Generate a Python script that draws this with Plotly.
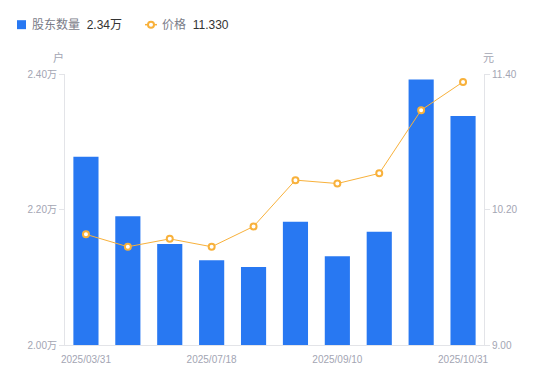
import plotly.graph_objects as go

# ---- data ----
dates = ["2025/03/31", "2025/06/20", "2025/06/30", "2025/07/18", "2025/07/31",
         "2025/08/20", "2025/09/10", "2025/09/30", "2025/10/20", "2025/10/31"]
holders_wan = [2.278, 2.190, 2.149, 2.125, 2.115, 2.182, 2.131, 2.167, 2.392, 2.338]
price = [9.98, 9.87, 9.94, 9.87, 10.05, 10.46, 10.43, 10.52, 11.08, 11.33]
shown_ticks = [dates[0], dates[3], dates[6], dates[9]]
left_ticks = [2.00, 2.20, 2.40]
right_ticks = [9.00, 10.20, 11.40]

OFF = 8  # page body margin
W, H = 550 - 2 * OFF, 381 - 2 * OFF
# plot area in window pixels: x 65..484, y 73.5..345.5
L = 65 - OFF
T = 73.5 - OFF
PW, PH = 419, 272
R = W - L - PW
B = H - T - PH

def px(x):
    return (x - OFF - L) / PW

def py(y):
    return (T + PH - (y - OFF)) / PH

FONT = "Liberation Sans, Arial, Noto Sans CJK SC, sans-serif"
BLUE = "#2878f2"
ORANGE = "#f8b13b"
TICK = "#a3a5b3"
AXIS = "#e3e4e8"

fig = go.Figure()
fig.add_bar(x=dates, y=holders_wan, marker=dict(color=BLUE, line=dict(width=0)),
            yaxis="y", name="股东数量", hoverinfo="skip")
fig.add_scatter(x=dates, y=price, yaxis="y2", mode="lines+markers", name="价格",
                line=dict(color=ORANGE, width=1),
                marker=dict(size=6, color="white", line=dict(color=ORANGE, width=2)),
                hoverinfo="skip")

fig.update_layout(
    width=W, height=H,
    margin=dict(l=L, r=R, t=T, b=B, pad=0, autoexpand=False),
    paper_bgcolor="white", plot_bgcolor="white",
    showlegend=False, bargap=0.4,
    font=dict(family=FONT, size=10, color=TICK),
    xaxis=dict(type="category", range=[-0.5, 9.5], tickmode="array", tickvals=shown_ticks,
               ticktext=shown_ticks, showline=True, linecolor=AXIS, linewidth=1,
               ticks="outside", ticklen=5, tickcolor="rgba(0,0,0,0)",
               showgrid=False, zeroline=False, automargin=False,
               tickfont=dict(size=10, color=TICK)),
    yaxis=dict(range=[2.0, 2.4], tickmode="array", tickvals=left_ticks,
               ticktext=[f"{v:.2f}万" for v in left_ticks],
               showline=True, linecolor=AXIS, linewidth=1, ticks="outside", ticklen=5,
               tickcolor=AXIS, showgrid=False, zeroline=False, automargin=False,
               tickfont=dict(size=10, color=TICK)),
    yaxis2=dict(range=[9.0, 11.4], overlaying="y", side="right", tickmode="array",
                tickvals=right_ticks, ticktext=[f"{v:.2f}" for v in right_ticks],
                showline=True, linecolor=AXIS, linewidth=1, ticks="outside", ticklen=5,
                tickcolor=AXIS, showgrid=False, zeroline=False, automargin=False,
                tickfont=dict(size=10, color=TICK)),
)

# axis unit titles
for xx, txt in [(58, "户"), (489, "元")]:
    fig.add_annotation(x=px(xx), y=py(57), xref="paper", yref="paper", text=txt,
                       xanchor="center", yanchor="middle",
                       showarrow=False, font=dict(size=11, color=TICK))

# custom legend
fig.add_shape(type="rect", xref="paper", yref="paper", x0=px(17), x1=px(26),
              y0=py(28.5), y1=py(19.5), fillcolor=BLUE, line=dict(width=0))
fig.add_annotation(x=px(30), y=py(24), xref="paper", yref="paper", xanchor="left",
                   yanchor="middle",
                   text=f"<span style='color:#7a7c88'>股东数量</span>  "
                        f"<span style='color:#333333'>{holders_wan[-1]:.2f}万</span>",
                   showarrow=False, font=dict(size=12, family=FONT))
fig.add_shape(type="line", xref="paper", yref="paper", x0=px(145), x1=px(157),
              y0=py(24), y1=py(24), line=dict(color=ORANGE, width=1.5))
fig.add_shape(type="circle", xref="paper", yref="paper", x0=px(148), x1=px(154),
              y0=py(27), y1=py(21), fillcolor="white", line=dict(color=ORANGE, width=2))
fig.add_annotation(x=px(160), y=py(24), xref="paper", yref="paper", xanchor="left",
                   yanchor="middle",
                   text=f"<span style='color:#7a7c88'>价格</span>  "
                        f"<span style='color:#333333'>{price[-1]:.3f}</span>",
                   showarrow=False, font=dict(size=12, family=FONT))

fig.write_html("out.html")
